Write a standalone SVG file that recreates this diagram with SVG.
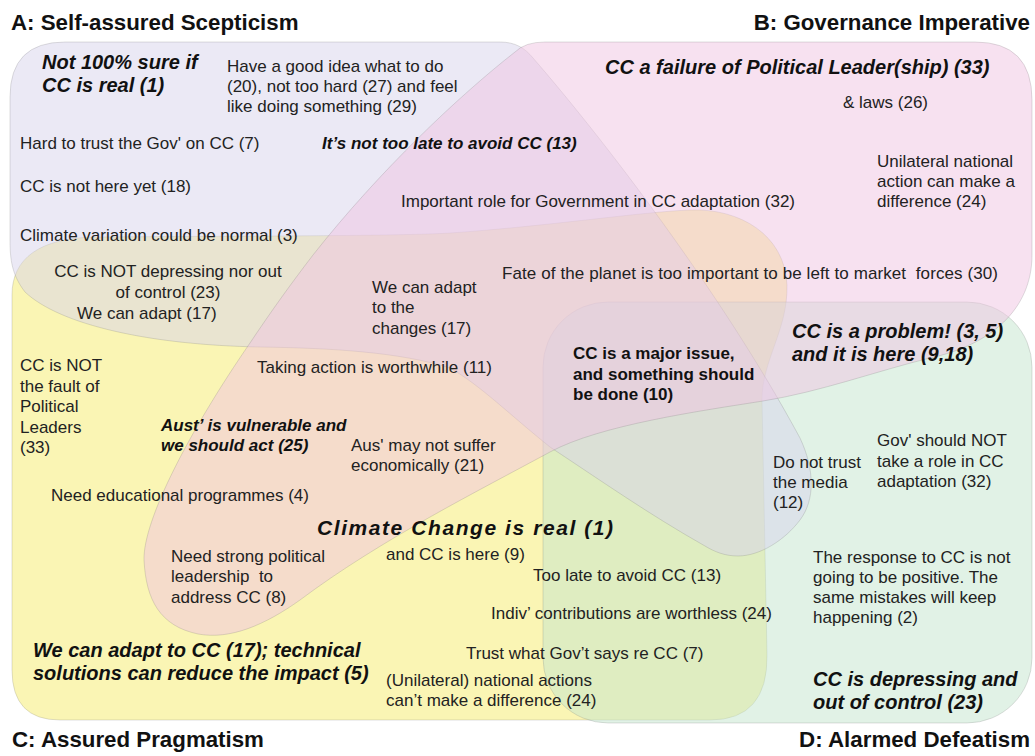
<svg xmlns="http://www.w3.org/2000/svg" width="1035" height="756" viewBox="0 0 1035 756">
<style>
.set{stroke:#707070;stroke-opacity:.22;stroke-width:1}
.t{font-family:"Liberation Sans",Arial,Helvetica,sans-serif;font-size:17px;fill:#222}
.b{font-weight:bold;fill:#111}
.bi{font-weight:bold;font-style:italic;fill:#111}
.big{font-size:20px}
.huge{font-size:21px}
.title{font-family:"Liberation Sans",Arial,Helvetica,sans-serif;font-weight:bold;font-size:22.3px;fill:#111}
.pre{white-space:pre}
</style>
<rect width="1035" height="756" fill="#ffffff"/>
<g id="sets">
  <g id="setC"><path class="set" fill="#f5eb69" fill-opacity="0.5" d="M 95,237 C 250,236 400,236 450,233 C 550,226 640,212 690,210 C 740,208 785,235 787,285 C 788,330 762,360 762,400 L 767,655 Q 768,720 710,720 H 60 Q 12,720 12,670 V 295 C 12,258 40,238 95,237 Z"/></g>
  <g id="setD"><rect class="set" fill="#c3e5cd" fill-opacity="0.5" x="543" y="302" width="489" height="421" rx="65" ry="65"/></g>
  <g id="setA"><path class="set" fill="#d7d3eb" fill-opacity="0.5" d="M 65,42 H 500 C 515,42 525,48 533,58 C 600,135 720,290 800,438 C 815,470 815,500 800,520 C 785,540 760,556 738,556 C 725,556 715,552 705,546 C 650,515 600,480 550,447 C 510,415 480,385 450,368 C 400,352 330,348 260,347 C 150,345 60,325 25,292 C 12,275 10,260 10,240 V 97 Q 10,42 65,42 Z"/></g>
  <g id="setB"><path class="set" fill="#efc3e1" fill-opacity="0.5" d="M 545,42 H 975 Q 1032,42 1032,100 V 255 C 1032,310 990,345 930,358 C 880,370 820,392 763,401 C 700,411 600,425 550,452 C 480,490 380,540 300,600 C 265,625 230,640 198,634 C 160,626 146,600 144,560 C 143,520 190,430 250,343 C 270,313 290,285 313,255 C 380,170 460,95 515,52 Q 525,42 545,42 Z"/></g>
</g>
<g id="titles">
  <text id="titleA" class="title" x="11" y="30">A: Self-assured Scepticism</text>
  <text id="titleB" class="title" x="1030" y="30" text-anchor="end">B: Governance Imperative</text>
  <text id="titleC" class="title" x="12" y="747">C: Assured Pragmatism</text>
  <text id="titleD" class="title" x="1030" y="747" text-anchor="end">D: Alarmed Defeatism</text>
</g>
<g id="labels">
  <g id="l-notsure"><text class="t bi big"><tspan x="42" y="69">Not 100% sure if</tspan><tspan x="42" y="92">CC is real (1)</tspan></text></g>
  <g id="l-goodidea"><text class="t"><tspan x="227" y="72">Have a good idea what to do</tspan><tspan x="227" y="92">(20), not too hard (27) and feel</tspan><tspan x="227" y="112">like doing something (29)</tspan></text></g>
  <g id="l-hardtrust"><text class="t" x="20" y="149">Hard to trust the Gov' on CC (7)</text></g>
  <g id="l-nottoolate"><text class="t bi" x="322" y="149">It’s not too late to avoid CC (13)</text></g>
  <g id="l-nothere"><text class="t" x="20" y="192">CC is not here yet (18)</text></g>
  <g id="l-importantrole"><text class="t" x="401" y="207">Important role for Government in CC adaptation (32)</text></g>
  <g id="l-variation"><text class="t" x="20" y="241">Climate variation could be normal (3)</text></g>
  <g id="l-notdepressing"><text class="t" text-anchor="middle"><tspan x="168" y="277">CC is NOT depressing nor out</tspan><tspan x="168" y="298">of control (23)</tspan></text></g>
  <g id="l-weadapt17"><text class="t" x="77" y="319">We can adapt (17)</text></g>
  <g id="l-adaptchanges"><text class="t"><tspan x="372" y="293">We can adapt</tspan><tspan x="372" y="313">to the</tspan><tspan x="372" y="334">changes (17)</tspan></text></g>
  <g id="l-fate"><text class="t pre" x="502" y="279" textLength="496" lengthAdjust="spacing">Fate of the planet is too important to be left to market  forces (30)</text></g>
  <g id="l-notfault"><text class="t"><tspan x="20" y="371">CC is NOT</tspan><tspan x="20" y="391.5">the fault of</tspan><tspan x="20" y="412">Political</tspan><tspan x="20" y="432.5">Leaders</tspan><tspan x="20" y="453">(33)</tspan></text></g>
  <g id="l-takingaction"><text class="t" x="257" y="373">Taking action is worthwhile (11)</text></g>
  <g id="l-vulnerable"><text class="t bi"><tspan x="161" y="431">Aust’ is vulnerable and</tspan><tspan x="161" y="451">we should act (25)</tspan></text></g>
  <g id="l-notsuffer"><text class="t"><tspan x="351" y="451">Aus' may not suffer</tspan><tspan x="351" y="471">economically (21)</tspan></text></g>
  <g id="l-education"><text class="t" x="51" y="501">Need educational programmes (4)</text></g>
  <g id="l-ccreal"><text class="t bi huge" x="317" y="535" textLength="296" lengthAdjust="spacing">Climate Change is real (1)</text></g>
  <g id="l-leadership"><text class="t pre"><tspan x="171" y="562">Need strong political</tspan><tspan x="171" y="582">leadership  to</tspan><tspan x="171" y="603">address CC (8)</tspan></text></g>
  <g id="l-ishere"><text class="t" x="386" y="560">and CC is here (9)</text></g>
  <g id="l-toolate"><text class="t" x="533" y="581">Too late to avoid CC (13)</text></g>
  <g id="l-indiv"><text class="t" x="491" y="619">Indiv’ contributions are worthless (24)</text></g>
  <g id="l-trustgov"><text class="t" x="466" y="659">Trust what Gov’t says re CC (7)</text></g>
  <g id="l-unilateralno"><text class="t"><tspan x="386" y="686">(Unilateral) national actions</tspan><tspan x="386" y="706">can’t make a difference (24)</tspan></text></g>
  <g id="l-techsolutions"><text class="t bi big"><tspan x="33" y="657">We can adapt to CC (17); technical</tspan><tspan x="33" y="680">solutions can reduce the impact (5)</tspan></text></g>
  <g id="l-failure"><text class="t bi big" x="605" y="74">CC a failure of Political Leader(ship) (33)</text></g>
  <g id="l-laws"><text class="t" x="843" y="108">&amp; laws (26)</text></g>
  <g id="l-unilateralyes"><text class="t"><tspan x="877" y="167">Unilateral national</tspan><tspan x="877" y="187">action can make a</tspan><tspan x="877" y="207">difference (24)</tspan></text></g>
  <g id="l-majorissue"><text class="t b"><tspan x="573" y="359">CC is a major issue,</tspan><tspan x="573" y="380">and something should</tspan><tspan x="573" y="400">be done (10)</tspan></text></g>
  <g id="l-problem"><text class="t bi big"><tspan x="792" y="338">CC is a problem! (3, 5)</tspan><tspan x="792" y="361">and it is here (9,18)</tspan></text></g>
  <g id="l-govnot"><text class="t"><tspan x="877" y="446">Gov' should NOT</tspan><tspan x="877" y="467">take a role in CC</tspan><tspan x="877" y="487">adaptation (32)</tspan></text></g>
  <g id="l-media"><text class="t"><tspan x="773" y="468">Do not trust</tspan><tspan x="773" y="488">the media</tspan><tspan x="773" y="508">(12)</tspan></text></g>
  <g id="l-response"><text class="t"><tspan x="813" y="563">The response to CC is not</tspan><tspan x="813" y="583">going to be positive. The</tspan><tspan x="813" y="603">same mistakes will keep</tspan><tspan x="813" y="623">happening (2)</tspan></text></g>
  <g id="l-depressing"><text class="t bi big"><tspan x="813" y="686">CC is depressing and</tspan><tspan x="813" y="709">out of control (23)</tspan></text></g>
</g>
<g id="connectors"/>
</svg>
